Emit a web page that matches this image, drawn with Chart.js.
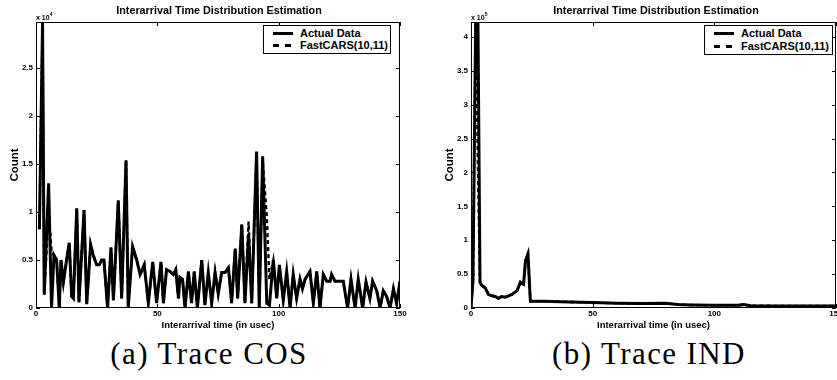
<!DOCTYPE html>
<html><head><meta charset="utf-8">
<script src="https://cdn.jsdelivr.net/npm/chart.js@4/dist/chart.umd.min.js"></script>
<style>
html,body{margin:0;padding:0;background:#fff;}
body{width:837px;height:380px;overflow:hidden;position:relative;}
canvas{position:absolute;top:0;}
.ttl{position:absolute;top:4px;font:bold 10.8px "Liberation Sans",Arial,sans-serif;white-space:nowrap;transform:translateX(-50%);color:#000;}
.exp{position:absolute;top:11px;font:bold 7px "Liberation Sans",Arial,sans-serif;white-space:nowrap;color:#000;}
.exp sup{font-size:5px;vertical-align:4px;}
.leg{position:absolute;border:1px solid #000;background:#fff;box-sizing:border-box;font:bold 11px "Liberation Sans",Arial,sans-serif;color:#000;}
.row{position:absolute;left:0;height:13px;width:100%;}
.row span{position:absolute;left:36px;top:0;line-height:13px;white-space:nowrap;}
.solid{position:absolute;left:9px;top:5px;width:20px;height:3px;background:#000;}
.dash{position:absolute;left:9px;top:5px;width:21px;height:2.5px;background:repeating-linear-gradient(to right,#000 0 6px,transparent 6px 12px);}
.cap{position:absolute;top:336px;font:31px "Liberation Serif","Times New Roman",serif;white-space:nowrap;transform:translateX(-50%);color:#000;letter-spacing:1.4px;}
</style>
</head><body>
<canvas id="c1" width="420" height="335" style="left:0px"></canvas>
<canvas id="c2" width="440" height="335" style="left:420px"></canvas>
<div class="ttl" style="left:219px">Interarrival Time Distribution Estimation</div>
<div class="ttl" style="left:656px">Interarrival Time Distribution Estimation</div>
<div class="exp" style="left:36px">x 10<sup>4</sup></div>
<div class="exp" style="left:471px">x 10<sup>5</sup></div>
<div class="leg" style="left:263px;top:25px;width:128px;height:29px">
  <div class="row" style="top:1px"><div class="solid"></div><span>Actual Data</span></div>
  <div class="row" style="top:13px"><div class="dash"></div><span>FastCARS(10,11)</span></div>
</div>
<div class="leg" style="left:704px;top:25px;width:129px;height:30px">
  <div class="row" style="top:1px"><div class="solid"></div><span>Actual Data</span></div>
  <div class="row" style="top:14px"><div class="dash"></div><span>FastCARS(10,11)</span></div>
</div>
<div class="cap" style="left:209px">(a) Trace COS</div>
<div class="cap" style="left:649px">(b) Trace IND</div>
<script>
// ---- Trace COS (left) ----
const cosX = [1.4,2.7,3.4,5.2,6.4,7.4,8.5,9.6,10.3,11.3,12.6,13.7,14.7,15.4,16.8,17.7,19.8,20.9,22.5,23.6,25.0,26.1,27.1,28.0,29.5,30.9,31.9,33.9,35.3,37.1,38.0,39.8,41.5,42.9,44.6,46.3,48.1,49.7,51.5,52.5,53.8,55.2,56.6,57.6,58.7,59.3,60.4,61.4,62.8,64.1,65.2,66.5,68.3,69.6,71.0,72.4,73.8,75.1,76.5,77.9,79.3,80.6,82.1,83.1,84.8,86.1,87.6,88.9,90.9,92.0,93.4,95.1,96.2,97.8,99.2,100.3,101.9,103.3,104.7,106.0,107.4,108.8,109.8,110.9,112.9,114.3,115.7,117.0,118.4,119.8,121.2,121.8,123.2,124.6,126.6,128.4,129.8,131.5,132.8,134.6,136.0,137.6,138.7,140.4,141.8,143.1,144.5,145.9,147.3,148.6,150];
const cosActual = [8200,29700,1400,13000,0,5500,5000,0,5000,2700,5000,6800,1200,1000,10400,600,10200,400,6600,5500,4500,4500,5000,5000,0,6300,800,11200,1000,15400,0,6400,5000,3500,4500,500,4800,500,4800,500,4000,3800,3500,4000,1000,3200,3000,0,3800,500,3800,0,5000,300,3700,500,3700,1500,3700,3700,4200,500,6200,1000,8700,500,7700,500,16300,0,15800,500,300,5000,1000,4500,800,3800,0,3500,1000,3000,2000,3000,3800,500,3800,0,3500,2800,2800,3500,2800,2800,2800,0,3000,0,3000,0,2700,1000,2800,1800,0,1800,1200,0,2000,500,2800];
const cosFast = [8200,29700,1400,10000,6000,5500,5000,0,5000,2700,5000,6800,1200,1000,10400,600,10200,400,6600,5500,4500,4500,5000,5000,0,6300,800,11200,1000,15400,0,6400,5000,3500,4500,500,4800,500,4800,500,4000,3800,3500,4000,1000,3200,3000,0,3800,500,3800,0,5000,300,3700,500,3700,1500,3700,3700,4200,500,6200,1000,8700,500,9000,500,16300,0,15500,9500,3000,5000,1000,4500,800,3800,0,3500,1000,3000,2000,3000,3800,500,3800,0,3500,2800,2800,3500,2800,2800,2800,0,3000,0,3000,0,2700,1000,2800,1800,0,1800,1200,0,2000,500,2800];
const cosYTicks = [0,5000,10000,15000,20000,25000];

// ---- Trace IND (right) ----
const indX = [0,0.8,2.0,2.8,3.7,4.5,5.8,7.2,8.6,10,11.3,12.5,14,15.5,16.8,18,19,20.3,21,21.6,22.4,23.4,24.4,30,40,50,60,70,80,85,90,100,110,112,115,130,150];
const indActual = [0,40000,450000,450000,38000,33000,30000,20000,18000,17000,14000,17000,16000,18000,20000,23000,26000,38000,36000,35000,70000,80000,10000,10000,9000,8000,7000,6500,7000,5000,4500,4000,4000,5000,3500,3000,3000];
const indFast = [0,40000,450000,220000,38000,33000,30000,20000,18000,17000,14000,17000,16000,18000,20000,23000,26000,38000,36000,35000,70000,80000,10000,10000,9000,8000,7000,6500,7000,5000,4500,4000,4000,5000,3500,3000,3000];
const indYTicks = [0,50000,100000,150000,200000,250000,300000,350000,400000];

const xTicks = [0,50,100,150];
const seriesNames = ['Actual Data','FastCARS(10,11)'];

const tickFont = {family:'"Liberation Sans", Arial, sans-serif', size:8, weight:'bold'};

const frameTicks = {
  id:'frameTicks',
  afterDatasetsDraw(chart){
    const {ctx, chartArea:a, scales} = chart;
    ctx.save();
    ctx.strokeStyle='#000'; ctx.lineWidth=1;
    ctx.strokeRect(a.left+0.5, a.top+0.5, a.right-a.left-1, a.bottom-a.top-1);
    ctx.beginPath();
    scales.x.ticks.forEach(t=>{
      const p = Math.round(scales.x.getPixelForValue(t.value))+0.5;
      ctx.moveTo(p,a.bottom); ctx.lineTo(p,a.bottom-4);
      ctx.moveTo(p,a.top); ctx.lineTo(p,a.top+4);
    });
    scales.y.ticks.forEach(t=>{
      const p = Math.round(scales.y.getPixelForValue(t.value))+0.5;
      ctx.moveTo(a.left,p); ctx.lineTo(a.left+4,p);
      ctx.moveTo(a.right,p); ctx.lineTo(a.right-4,p);
    });
    ctx.stroke();
    ctx.restore();
  }
};

function pts(xs, ys){ return xs.map((x,i)=>({x:x, y:ys[i]})); }

function makeChart(id, xs, actual, fast, ymax, div, yTickVals, pad){
  return new Chart(document.getElementById(id), {
    type:'line',
    data:{datasets:[
      {label:seriesNames[0], data:pts(xs,actual), borderColor:'#000', borderWidth:3, pointRadius:0, tension:0, fill:false},
      {label:seriesNames[1], data:pts(xs,fast), borderColor:'#000', borderWidth:2.4, borderDash:[4,3], pointRadius:0, tension:0, fill:false}
    ]},
    options:{
      responsive:false, animation:false, devicePixelRatio:1,
      layout:{padding:pad},
      plugins:{legend:{display:false}, title:{display:false}, tooltip:{enabled:false}},
      scales:{
        x:{type:'linear', min:0, max:150,
           afterBuildTicks:s=>{s.ticks = xTicks.map(v=>({value:v}));},
           ticks:{font:tickFont, color:'#000', padding:1, maxRotation:0, autoSkip:false, includeBounds:false},
           grid:{display:false, drawTicks:false, tickLength:0}, border:{display:false},
           title:{display:true, text:'Interarrival time (in usec)', color:'#000', font:{family:'"Liberation Sans", Arial, sans-serif', size:9.5, weight:'bold'}, padding:{top:0,bottom:4}},
           afterFit:s=>{s.height=27;}
        },
        y:{type:'linear', min:0, max:ymax,
           afterBuildTicks:s=>{s.ticks = yTickVals.map(v=>({value:v}));},
           ticks:{font:tickFont, color:'#000', padding:3, includeBounds:false, callback:v=>String(v/div)},
           grid:{display:false, drawTicks:false, tickLength:0}, border:{display:false},
           title:{display:true, text:'Count', color:'#000', font:{family:'"Liberation Sans", Arial, sans-serif', size:11.5, weight:'bold'}, padding:{top:3,bottom:0}},
           afterFit:s=>{s.width=31;}
        }
      }
    },
    plugins:[frameTicks]
  });
}

makeChart('c1', cosX, cosActual, cosFast, 29800, 10000, cosYTicks, {left:5, right:20, top:22, bottom:0});
makeChart('c2', indX, indActual, indFast, 422000, 100000, indYTicks, {left:20, right:24, top:22, bottom:0});
</script>
</body></html>
